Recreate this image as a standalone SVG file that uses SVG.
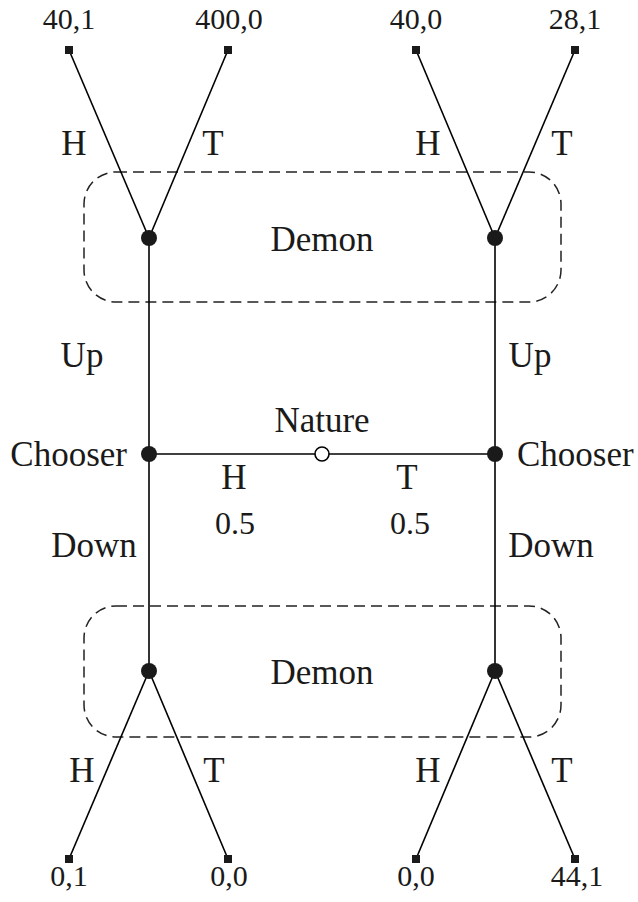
<svg xmlns="http://www.w3.org/2000/svg" width="638" height="902" viewBox="0 0 638 902">
<style>
.t{font-family:'Liberation Serif','DejaVu Serif',serif;font-size:35px;fill:#1a1a1a}
.n{font-size:30px}
.p{font-size:32px}
.e{stroke:#000;stroke-width:1.6;fill:none}
.d{stroke:#222;stroke-width:1.5;fill:none;stroke-dasharray:11,6}
.m{text-anchor:middle}
</style>
<rect width="638" height="902" fill="#fff"/>
<g id="infosets">
<rect class="d" x="84" y="172" width="477" height="130" rx="32" ry="32"/>
<rect class="d" x="84" y="606" width="477" height="131" rx="32" ry="32"/>
</g>
<g id="connectors">
<line class="e" x1="69" y1="50" x2="149" y2="238"/>
<line class="e" x1="228" y1="50" x2="149" y2="238"/>
<line class="e" x1="416" y1="50" x2="495" y2="238"/>
<line class="e" x1="575" y1="50" x2="495" y2="238"/>
<line class="e" x1="149" y1="238" x2="149" y2="671"/>
<line class="e" x1="495" y1="238" x2="495" y2="671"/>
<line class="e" x1="149" y1="454" x2="495" y2="454"/>
<line class="e" x1="69" y1="859" x2="149" y2="671"/>
<line class="e" x1="228" y1="859" x2="149" y2="671"/>
<line class="e" x1="416" y1="859" x2="495" y2="671"/>
<line class="e" x1="575" y1="859" x2="495" y2="671"/>
</g>
<g id="labels" class="t" font-family="Liberation Serif, DejaVu Serif, serif">
<text class="m" x="74" y="155">H</text>
<text class="m" x="213" y="155">T</text>
<text class="m" x="428" y="155">H</text>
<text class="m" x="562" y="155">T</text>
<text class="m" x="82" y="367">Up</text>
<text class="m" x="530" y="367">Up</text>
<text class="m" x="234" y="489">H</text>
<text class="m" x="407" y="489">T</text>
<text class="m p" x="235" y="534">0.5</text>
<text class="m p" x="410" y="534">0.5</text>
<text class="m" x="94" y="557">Down</text>
<text class="m" x="551" y="557">Down</text>
<text class="m" x="82" y="782">H</text>
<text class="m" x="214" y="782">T</text>
<text class="m" x="428" y="782">H</text>
<text class="m" x="562" y="782">T</text>
</g>
<g class="t" font-family="Liberation Serif, DejaVu Serif, serif">
<g id="leaf-tl"><rect x="65" y="46" width="8" height="8"/><text class="m n" x="69" y="29">40,1</text></g>
<g id="leaf-tl2"><rect x="224" y="46" width="8" height="8"/><text class="m n" x="229" y="29">400,0</text></g>
<g id="leaf-tr"><rect x="412" y="46" width="8" height="8"/><text class="m n" x="416" y="29">40,0</text></g>
<g id="leaf-tr2"><rect x="571" y="46" width="8" height="8"/><text class="m n" x="575" y="29">28,1</text></g>
<g id="demon-tl"><circle cx="149" cy="238" r="8"/></g>
<g id="demon-tr"><circle cx="495" cy="238" r="8"/></g>
<g id="demon-top-label"><text class="m" x="322" y="251">Demon</text></g>
<g id="chooser-l"><circle cx="149" cy="454" r="8"/><text x="127" y="466" text-anchor="end">Chooser</text></g>
<g id="chooser-r"><circle cx="495" cy="454" r="8"/><text x="517" y="466">Chooser</text></g>
<g id="nature"><circle cx="322" cy="454" r="7" fill="#fff" stroke="#000" stroke-width="1.6"/><text class="m" x="322" y="432">Nature</text></g>
<g id="demon-bl"><circle cx="149" cy="671" r="8"/></g>
<g id="demon-br"><circle cx="495" cy="671" r="8"/></g>
<g id="demon-bottom-label"><text class="m" x="322" y="684">Demon</text></g>
<g id="leaf-bl"><rect x="65" y="855" width="8" height="8"/><text class="m n" x="69" y="886">0,1</text></g>
<g id="leaf-bl2"><rect x="224" y="855" width="8" height="8"/><text class="m n" x="229" y="886">0,0</text></g>
<g id="leaf-br"><rect x="412" y="855" width="8" height="8"/><text class="m n" x="416" y="886">0,0</text></g>
<g id="leaf-br2"><rect x="571" y="855" width="8" height="8"/><text class="m n" x="577" y="886">44,1</text></g>
</g>
</svg>
